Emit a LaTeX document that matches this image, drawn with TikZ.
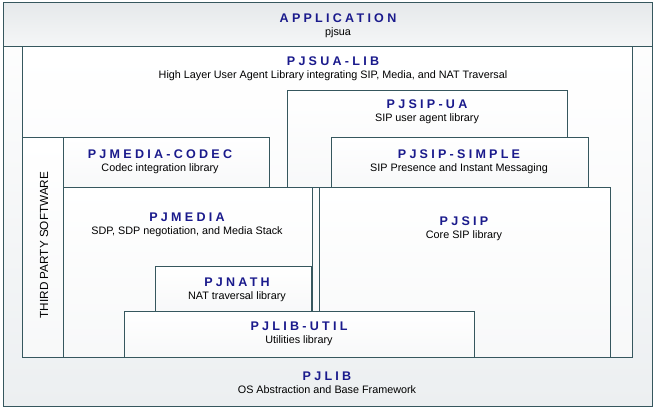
\documentclass[tikz,border=0pt]{standalone}
\usepackage{fontspec}
\setmainfont{Liberation Sans}
\newfontfamily\layerfont[LetterSpace=26]{Liberation Sans}
\definecolor{edgeslate}{HTML}{36575E}
\definecolor{titleblue}{HTML}{1A1A8C}
\definecolor{panelgray}{HTML}{E6E9EB}
\definecolor{backgray}{HTML}{ECEFF1}
\newcommand{\ttl}[1]{{\layerfont\bfseries\fontsize{9.4}{9.75}\selectfont\color{titleblue}#1}}
\begin{document}
\begin{tikzpicture}[x=0.75pt,y=-0.75pt]
        \useasboundingbox (0,0) rectangle (655,409);
        % outer frame and application band
        \path[draw=edgeslate,line width=0.75pt,top color=white,bottom color=backgray] (3,3) rectangle (652,406);
        \path[draw=edgeslate,line width=0.75pt,top color=panelgray,bottom color=white!60!panelgray] (3,3) rectangle (652,47);
        \begin{scope}[every path/.style={draw=edgeslate,line width=0.75pt,top color=white,middle color=white!40!panelgray,bottom color=white!70!panelgray}]
        \path (22,47) rectangle (632,357);
        \path (287,91) rectangle (567,188);
        \path (331,138) rectangle (588,188);
        \path (319,188) rectangle (610,357);
        \path (22,138) rectangle (63,357);
        \path (63,138) rectangle (269,188);
        \path (63,188) rectangle (312,357);
        \path (155,266) rectangle (311,311);
        \path (124,311) rectangle (474,357);
        \end{scope}
        \begin{scope}[every node/.style={align=center,inner sep=0pt,font=\fontsize{8.1}{9.75}\selectfont}]
        \node (app) at (338,25.5) {\ttl{APPLICATION}\\pjsua};
        \node (pjsualib) at (333,69) {\ttl{PJSUA-LIB}\\High Layer User Agent Library integrating SIP, Media, and NAT Traversal};
        \node (pjsipua) at (427,111.5) {\ttl{PJSIP-UA}\\SIP user agent library};
        \node (pjsipsimple) at (459,162) {\ttl{PJSIP-SIMPLE}\\SIP Presence and Instant Messaging};
        \node (pjsip) at (464,229) {\ttl{PJSIP}\\Core SIP library};
        \node (codec) at (160,161.5) {\ttl{PJMEDIA-CODEC}\\Codec integration library};
        \node (pjmedia) at (187,225) {\ttl{PJMEDIA}\\SDP, SDP negotiation, and Media Stack};
        \node (pjnath) at (237,289.5) {\ttl{PJNATH}\\NAT traversal library};
        \node (pjlibutil) at (299,333.5) {\ttl{PJLIB-UTIL}\\Utilities library};
        \node (pjlib) at (327,382.5) {\ttl{PJLIB}\\OS Abstraction and Base Framework};
        \node[rotate=90,font=\fontsize{8.8}{10}\selectfont] (thirdparty) at (44,245) {THIRD PARTY SOFTWARE};
        \end{scope}
\end{tikzpicture}
\end{document}
